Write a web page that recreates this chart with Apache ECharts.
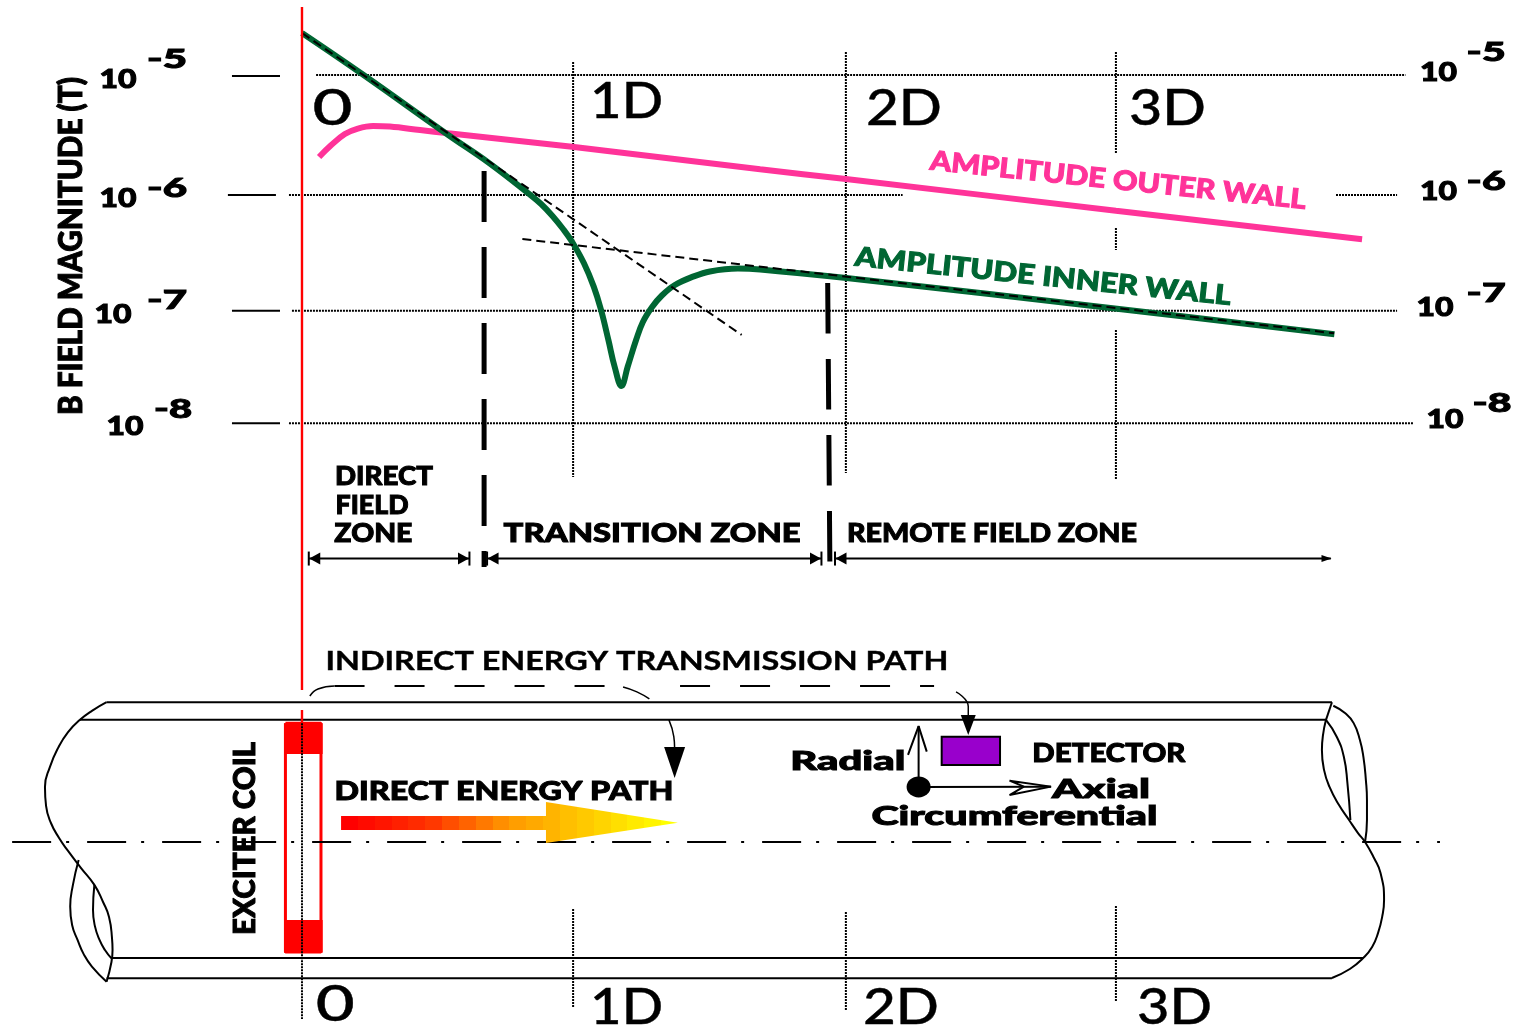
<!DOCTYPE html>
<html>
<head>
<meta charset="utf-8">
<title>Remote field zones</title>
<style>
  html, body { margin: 0; padding: 0; background: #fff; }
  #chart { width: 1519px; height: 1026px; }
</style>
<script src="https://cdn.jsdelivr.net/npm/echarts@6/dist/echarts.min.js"></script>
</head>
<body>
<div id="chart"></div>
<script>
// upper plot: [distance in pipe diameters, log10 of B in tesla]
var outerWall = [[0.063,-5.706],[0.105,-5.610],[0.158,-5.508],[0.206,-5.461],[0.262,-5.439],[0.324,-5.444],[0.435,-5.474],[0.539,-5.502],[0.995,-5.618],[1.688,-5.812],[2.004,-5.896],[2.999,-6.169],[3.906,-6.415]];
var innerWall = [[0,-4.638],[0.227,-5.000],[0.539,-5.517],[0.691,-5.761],[0.834,-6.019],[0.881,-6.111],[0.923,-6.214],[0.962,-6.326],[0.995,-6.436],[1.039,-6.622],[1.075,-6.823],[1.102,-7.024],[1.129,-7.283],[1.152,-7.513],[1.177,-7.679],[1.200,-7.513],[1.231,-7.283],[1.256,-7.127],[1.290,-6.998],[1.326,-6.899],[1.374,-6.809],[1.441,-6.737],[1.503,-6.692],[1.606,-6.667],[1.688,-6.675],[2.006,-6.749],[3.043,-7.024],[3.804,-7.233]];
var directSlope = [[0,-4.638],[1.620,-7.239]];
var remoteSlope = [[0.812,-6.413],[3.803,-7.225]];

var decadeLines = [
  [[0.052,-5],[4.066,-5]],
  [[-0.048,-6.034],[2.213,-6.034]],
  [[3.810,-6.034],[4.035,-6.034]],
  [[-0.037,-7.03],[4.035,-7.03]],
  [[-0.048,-8],[4.097,-8]]
];
var decadeTicks = [
  [[-0.258,-5.009],[-0.081,-5.009]],
  [[-0.273,-6.034],[-0.096,-6.034]],
  [[-0.258,-7.03],[-0.081,-7.03]],
  [[-0.258,-8],[-0.081,-8]]
];
var diameterLines = [
  [[0.999,-4.888],[0.999,-8.463]],
  [[2.004,-4.802],[2.004,-8.428]],
  [[2.999,-4.802],[2.999,-5.680]],
  [[2.999,-6.318],[2.999,-6.507]],
  [[2.999,-7.196],[2.999,-8.480]]
];
var zoneBounds = [
  [[0.671,-5.827],[0.671,-9.238]],
  [[1.937,-6.792],[1.945,-9.203]]
];
var zoneSpans = [
  [[0.025,-9.165],[0.617,-9.165]],
  [[0.682,-9.165],[1.914,-9.165]],
  [[1.964,-9.165],[3.791,-9.165]]
];
var zoneBars = [[0.025,-9.165],[0.617,-9.165],[0.682,-9.165],[1.914,-9.165],[1.964,-9.165]];
var zoneHeadsLeft = [[0.047,-9.165],[0.704,-9.165],[1.986,-9.165]];
var zoneHeadsRight = [[0.595,-9.165],[1.892,-9.165]];
var zoneEndHead = [[3.775,-9.165]];
var exciterAxisTop = [[0,-4.414],[0,-9.522]];

// lower drawing: [distance in pipe diameters, radial position in pipe diameters]
var exciterAxisPipe = [[[0,0.892],[0,0.560]],[[0,0.486],[0,0.438]]];
var pipeWalls = [
  [[-0.720,0.515],[3.795,0.515]],
  [[-0.818,0.450],[3.773,0.450]],
  [[-0.702,-0.427],[3.911,-0.427]],
  [[-0.720,-0.502],[3.795,-0.502]],
  [[3.795,0.515],[3.773,0.450]]
];
var pipeBreaks = [
  [[-0.720,0.515],[-0.774,0.483],[-0.818,0.450],[-0.862,0.405],[-0.899,0.346],[-0.929,0.276],[-0.947,0.203],[-0.943,0.133],[-0.925,0.070],[-0.895,0.015],[-0.862,-0.033],[-0.814,-0.096],[-0.765,-0.158],[-0.733,-0.221],[-0.711,-0.276],[-0.700,-0.354],[-0.698,-0.398],[-0.702,-0.442],[-0.720,-0.515]],
  [[-0.823,-0.066],[-0.844,-0.158],[-0.854,-0.238],[-0.847,-0.306],[-0.827,-0.361],[-0.803,-0.416],[-0.774,-0.459],[-0.720,-0.515]],
  [[-0.765,-0.158],[-0.770,-0.251],[-0.763,-0.310],[-0.746,-0.361],[-0.726,-0.398],[-0.702,-0.429]],
  [[3.773,0.450],[3.762,0.394],[3.758,0.339],[3.766,0.265],[3.786,0.203],[3.821,0.136],[3.858,0.081],[3.891,0.033],[3.917,0],[3.950,-0.059],[3.974,-0.114],[3.987,-0.214],[3.980,-0.276],[3.965,-0.335],[3.943,-0.387],[3.911,-0.427],[3.861,-0.468],[3.795,-0.501]],
  [[3.773,0.450],[3.813,0.387],[3.839,0.313],[3.852,0.217],[3.863,0.081]],
  [[3.800,0.502],[3.843,0.475],[3.875,0.438],[3.898,0.376],[3.911,0.313],[3.920,0.228],[3.924,0.155],[3.924,0.081],[3.917,0]]
];
var centreLine = [[-1.068,0],[4.193,0]];
var pipeDiameterLines = [
  [[0,0.438],[0,-0.652]],
  [[0.999,-0.247],[0.999,-0.612]],
  [[2.004,-0.258],[2.004,-0.623]],
  [[2.999,-0.236],[2.999,-0.590]]
];
var indirectBends = [
  [[0.029,0.538],[0.059,0.564],[0.120,0.575]],
  [[1.183,0.571],[1.234,0.553],[1.280,0.527]],
  [[1.352,0.450],[1.370,0.388],[1.373,0.346]],
  [[2.410,0.553],[2.455,0.499],[2.455,0.464]]
];
var indirectDashes = [
  [[0.120,0.575],[1.120,0.575]],
  [[1.393,0.575],[2.329,0.575]]
];
var pathHeads = [[1.373,0.293]];
var detectorHead = [[2.455,0.431]];
var sensorOrigin = [[2.272,0.203]];
var radialArrow = [[2.272,0.203],[2.272,0.427]];
var radialBarbs = [[2.233,0.321],[2.272,0.427],[2.302,0.333]];
var axialArrow = [[2.272,0.203],[2.760,0.204]];
var axialBarbs = [[2.660,0.204],[2.607,0.226],[2.760,0.204],[2.607,0.173],[2.660,0.204]];
var coilOutline = [[-0.061,0.438],[0.070,0.438],[0.070,-0.405],[-0.061,-0.405],[-0.061,0.438]];
var coilTop = [[-0.066,0.438],[0.076,0.438],[0.076,0.324],[-0.066,0.324]];
var coilBottom = [[-0.066,-0.287],[0.076,-0.287],[0.076,-0.408],[-0.066,-0.408]];
var detectorBox = [[2.357,0.388],[2.572,0.388],[2.572,0.284],[2.357,0.284]];
var energyArrow = [[0.144,0.096],[0.899,0.096],[0.899,0.147],[1.385,0.071],[0.899,-0.004],[0.899,0.044],[0.144,0.044]];
var energyColors = ['#ff0000', '#ff3300', '#ff9900', '#ffcc00', '#ffff00'];

var BLACK = '#000', RED = '#ff0000', PINK = '#ff3399', GREEN = '#006633';
var FONT = 'Lato, "Open Sans", sans-serif';

var chartNotes = [
  {t:'10',at:[-0.678,-5.026],w:37,s:26},{t:'-5',at:[-0.497,-4.854],w:40,s:27},
  {t:'10',at:[-0.678,-6.051],w:37,s:26},{t:'-6',at:[-0.497,-5.965],w:40,s:27},
  {t:'10',at:[-0.696,-7.050],w:37,s:26},{t:'-7',at:[-0.497,-6.929],w:40,s:27},
  {t:'10',at:[-0.652,-8.015],w:37,s:26},{t:'-8',at:[-0.475,-7.868],w:38,s:27},
  {t:'10',at:[4.188,-4.966],w:37,s:26},{t:'-5',at:[4.363,-4.793],w:39,s:27},
  {t:'10',at:[4.188,-5.991],w:37,s:26},{t:'-6',at:[4.363,-5.904],w:39,s:27},
  {t:'10',at:[4.175,-6.990],w:37,s:26},{t:'-7',at:[4.363,-6.869],w:39,s:27},
  {t:'10',at:[4.212,-7.954],w:37,s:26},{t:'-8',at:[4.385,-7.817],w:39,s:27},
  {t:'0',at:[0.112,-5.276],w:40,s:51,weight:500},
  {t:'1D',at:[1.196,-5.215],w:73,s:51,weight:500},
  {t:'2D',at:[2.218,-5.276],w:76,s:51,weight:500},
  {t:'3D',at:[3.189,-5.276],w:77,s:51,weight:500},
  {t:'B FIELD MAGNITUDE (T)',at:[-0.855,-6.473],w:338,s:33,rot:90},
  {t:'AMPLITUDE OUTER WALL',at:[3.007,-5.896],w:378,s:27,rot:-6,color:PINK},
  {t:'AMPLITUDE INNER WALL',at:[2.730,-6.723],w:378,s:27,rot:-6,color:GREEN},
  {t:'DIRECT',at:[0.302,-8.445],w:98,s:27},
  {t:'FIELD',at:[0.258,-8.695],w:73,s:27},
  {t:'ZONE',at:[0.263,-8.936],w:78,s:27},
  {t:'TRANSITION ZONE',at:[1.290,-8.936],w:297,s:27},
  {t:'REMOTE FIELD ZONE',at:[2.542,-8.936],w:290,s:27}
];
var pipeNotes = [
  {t:'INDIRECT ENERGY TRANSMISSION PATH',at:[1.234,0.671],w:623,s:27,weight:700},
  {t:'EXCITER COIL',at:[-0.217,0.013],w:193,s:31,rot:90},
  {t:'DIRECT ENERGY PATH',at:[0.744,0.192],w:339,s:27},
  {t:'Radial',at:[2.011,0.302],w:115,s:27},
  {t:'DETECTOR',at:[2.973,0.332],w:153,s:27},
  {t:'Axial',at:[2.944,0.199],w:98,s:27},
  {t:'Circumferential',at:[2.625,0.099],w:286,s:27},
  {t:'0',at:[0.123,-0.593],w:39,s:51,weight:500},
  {t:'1D',at:[1.196,-0.604],w:73,s:51,weight:500},
  {t:'2D',at:[2.207,-0.604],w:76,s:51,weight:500},
  {t:'3D',at:[3.215,-0.604],w:75,s:51,weight:500}
];

var measure = document.createElement('canvas').getContext('2d');

function line(pts, grid, color, width, dash, smooth, z) {
  return {
    type: 'line', xAxisIndex: grid, yAxisIndex: grid, data: pts, silent: true,
    symbol: 'none', smooth: smooth || false, z: z || 3,
    lineStyle: { color: color, width: width, type: dash || 'solid', cap: 'butt' }
  };
}
function marks(pts, grid, symbol, size, rotate) {
  return {
    type: 'scatter', xAxisIndex: grid, yAxisIndex: grid, data: pts, silent: true,
    symbol: symbol, symbolSize: size, symbolRotate: rotate || 0, z: 6,
    itemStyle: { color: BLACK, opacity: 1 }
  };
}
function shape(pts, grid, fill, stroke, z) {
  return {
    type: 'custom', xAxisIndex: grid, yAxisIndex: grid, silent: true, z: z || 2,
    data: [pts[0]], clip: false,
    renderItem: function (params, api) {
      return {
        type: 'polygon',
        shape: { points: pts.map(function (p) { return api.coord(p); }) },
        style: { fill: fill, stroke: stroke || null, lineWidth: stroke ? 2 : 0 }
      };
    }
  };
}
function notes(list, grid) {
  return {
    type: 'custom', xAxisIndex: grid, yAxisIndex: grid, silent: true, z: 8,
    data: list.map(function (n) { return n.at; }), clip: false,
    renderItem: function (params, api) {
      var n = list[params.dataIndex];
      var weight = n.weight || 900;
      var font = weight + ' ' + n.s + 'px ' + FONT;
      measure.font = font;
      var pos = api.coord(n.at);
      var color = n.color || BLACK;
      return {
        type: 'text', x: pos[0] + (n.rot === 90 ? 1.5 : 0), y: pos[1] + (n.rot === 90 ? 0 : 1.5),
        rotation: (n.rot || 0) * Math.PI / 180,
        scaleX: n.w / measure.measureText(n.t).width,
        style: {
          text: n.t, font: font, fill: color, textAlign: 'center', textVerticalAlign: 'middle',
          stroke: color, lineWidth: weight === 900 ? 1 : 0.4
        }
      };
    }
  };
}
// the reference arrow is filled in visible colour bands
function bandedGradient(colors, bands) {
  var stops = [];
  for (var i = 0; i < bands; i++) {
    var c = echarts.color.lerp(i / (bands - 1), colors);
    stops.push({ offset: i / bands, color: c }, { offset: (i + 1) / bands, color: c });
  }
  return new echarts.graphic.LinearGradient(0, 0, 1, 0, stops);
}

var series = [];
decadeLines.forEach(function (d) { series.push(line(d, 0, BLACK, 2, [2, 1], false, 2)); });
decadeTicks.forEach(function (d) { series.push(line(d, 0, BLACK, 2)); });
diameterLines.forEach(function (d) { series.push(line(d, 0, BLACK, 2, [2, 1], false, 2)); });
series.push(line(outerWall, 0, PINK, 6, null, 0.4, 4));
series.push(line(innerWall, 0, GREEN, 6, null, 0.4, 4));
series.push(line(directSlope, 0, BLACK, 2, [9, 5], false, 5));
series.push(line(remoteSlope, 0, BLACK, 2, [9, 5], false, 5));
series.push(line(zoneBounds[0], 0, BLACK, 5, [51, 25], false, 5));
series.push(line(zoneBounds[1], 0, BLACK, 5, [50.5, 25.5], false, 5));
zoneSpans.forEach(function (d) { series.push(line(d, 0, BLACK, 2)); });
series.push(marks(zoneBars, 0, 'rect', [2, 14]));
series.push(marks(zoneHeadsLeft, 0, 'triangle', [12, 11], 90));
series.push(marks(zoneHeadsRight, 0, 'triangle', [12, 11], -90));
series.push(marks(zoneEndHead, 0, 'triangle', [7, 10], -90));
series.push(line(exciterAxisTop, 0, RED, 2.4, null, false, 7));
series.push(notes(chartNotes, 0));

pipeWalls.forEach(function (d) { series.push(line(d, 1, BLACK, 2)); });
pipeBreaks.forEach(function (d) { series.push(line(d, 1, BLACK, 2, null, 0.5)); });
series.push(line(centreLine, 1, BLACK, 2, [39, 15, 3, 18]));
series.push(shape(coilTop, 1, RED));
series.push(shape(coilBottom, 1, RED));
series.push(line(coilOutline, 1, RED, 3, null, false, 2));
pipeDiameterLines.forEach(function (d) { series.push(line(d, 1, BLACK, 2, [2, 1], false, 5)); });
exciterAxisPipe.forEach(function (d) { series.push(line(d, 1, RED, 2.4, null, false, 4)); });
indirectBends.forEach(function (d) { series.push(line(d, 1, BLACK, 1.5, null, 0.5)); });
indirectDashes.forEach(function (d) { series.push(line(d, 1, BLACK, 2, [30, 30])); });
series.push(marks(pathHeads, 1, 'triangle', [21, 31], 180));
series.push(marks(detectorHead, 1, 'triangle', [15, 20], 180));
series.push(shape(detectorBox, 1, '#9900cc', BLACK, 4));
series.push(line(radialArrow, 1, BLACK, 2));
series.push(line(radialBarbs, 1, BLACK, 2));
series.push(line(axialArrow, 1, BLACK, 2));
series.push(line(axialBarbs, 1, BLACK, 2));
series.push(marks(sensorOrigin, 1, 'circle', [24, 21]));
series.push(shape(energyArrow, 1, bandedGradient(energyColors, 20), null, 4));
series.push(notes(pipeNotes, 1));

var hiddenX = { type: 'value', min: -1.1127, max: 4.4842, show: false };

var chart = echarts.init(document.getElementById('chart'));
chart.setOption({
  animation: false,
  backgroundColor: '#fff',
  grid: [
    { left: 0, right: 0, top: 0, height: 600 },
    { left: 0, right: 0, top: 600, height: 426 }
  ],
  xAxis: [
    Object.assign({ gridIndex: 0 }, hiddenX),
    Object.assign({ gridIndex: 1 }, hiddenX)
  ],
  yAxis: [
    { type: 'value', gridIndex: 0, min: -9.522, max: -4.354, show: false },
    { type: 'value', gridIndex: 1, min: -0.678, max: 0.8917, show: false }
  ],
  series: series
});
</script>
</body>
</html>
